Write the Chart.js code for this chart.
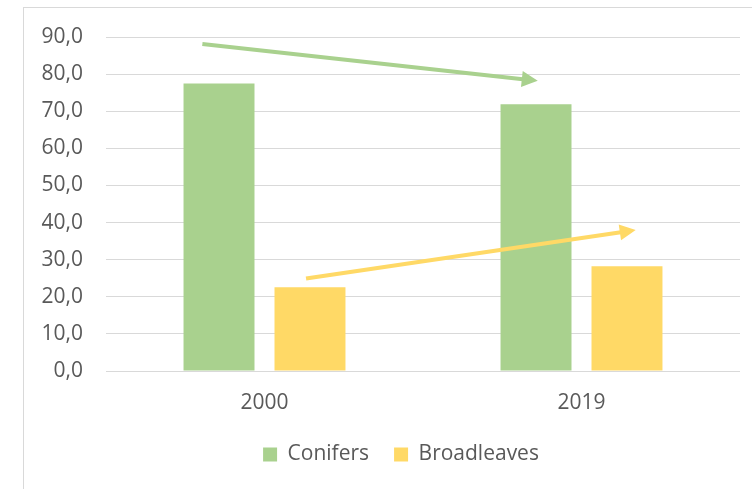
<!DOCTYPE html>
<html>
<head>
<meta charset="utf-8">
<script src="https://cdn.jsdelivr.net/npm/chart.js@4/dist/chart.umd.min.js"></script>
<style>
  html, body { margin: 0; padding: 0; background: #fff; }
  #frame { position: absolute; left: 23px; top: 7px; width: 800px; height: 600px; border: 1px solid #d9d9d9; box-sizing: border-box; }
  #wrap { position: absolute; left: 0; top: 0; width: 752px; height: 489px; }
</style>
</head>
<body>
<div id="frame"></div>
<div id="wrap"><canvas id="c" width="752" height="489"></canvas></div>
<script>
const categories = ["2000", "2019"];
const conifers = [77.5, 71.9];
const broadleaves = [22.6, 28.2];
const yTicks = [0, 10, 20, 30, 40, 50, 60, 70, 80, 90];
// trend arrows in data units: [xIndexStart, yStart, xIndexEnd, yEnd]
const coniferTrend = [-0.196, 88.1, 0.862, 78.2];
const broadleafTrend = [0.131, 24.9, 1.171, 38.0];

const GREEN = "#A9D18E";
const YELLOW = "#FFD966";
const TEXT = "#595959";
const FONT = "'Open Sans', 'Noto Sans', sans-serif";
const FS = 21;

const arrowPlugin = {
  id: "arrows",
  afterDatasetsDraw(chart) {
    const xs = chart.scales.x, ys = chart.scales.y, ctx = chart.ctx;
    const draw = (t, color) => {
      const x0 = xs.getPixelForValue(t[0]), y0 = ys.getPixelForValue(t[1]);
      const x1 = xs.getPixelForValue(t[2]), y1 = ys.getPixelForValue(t[3]);
      const ang = Math.atan2(y1 - y0, x1 - x0);
      const headLen = 16, headHalf = 8;
      const bx = x1 - headLen * Math.cos(ang), by = y1 - headLen * Math.sin(ang);
      ctx.save();
      ctx.strokeStyle = color; ctx.fillStyle = color;
      ctx.lineWidth = 4; ctx.lineCap = "butt";
      ctx.beginPath(); ctx.moveTo(x0, y0); ctx.lineTo(bx + Math.cos(ang), by + Math.sin(ang)); ctx.stroke();
      ctx.beginPath();
      ctx.moveTo(x1, y1);
      ctx.lineTo(bx + headHalf * Math.sin(ang), by - headHalf * Math.cos(ang));
      ctx.lineTo(bx - headHalf * Math.sin(ang), by + headHalf * Math.cos(ang));
      ctx.closePath(); ctx.fill();
      ctx.restore();
    };
    draw(coniferTrend, GREEN);
    draw(broadleafTrend, YELLOW);
  }
};

// shift the legend block to sit under the plot like the original
const legendShift = {
  id: "legendShift",
  afterLayout(chart) {
    const lg = chart.legend;
    if (!lg) return;
    lg.left += 31; lg.right += 31;
  }
};

new Chart(document.getElementById("c"), {
  type: "bar",
  data: {
    labels: categories,
    datasets: [
      { label: "Conifers", data: conifers, backgroundColor: GREEN, barPercentage: 0.78, categoryPercentage: 0.574 },
      { label: "Broadleaves", data: broadleaves, backgroundColor: YELLOW, barPercentage: 0.78, categoryPercentage: 0.574 }
    ]
  },
  options: {
    responsive: false,
    animation: false,
    devicePixelRatio: 1,
    layout: { padding: { left: 0, right: 12, top: 37, bottom: 14 } },
    plugins: {
      tooltip: { enabled: false },
      legend: {
        position: "bottom",
        labels: { color: TEXT, font: { family: FONT, size: FS }, boxWidth: 14, boxHeight: 14, padding: 25 }
      }
    },
    scales: {
      x: {
        grid: { display: false },
        border: { display: false },
        ticks: { color: TEXT, font: { family: FONT, size: FS }, padding: 11 },
        afterFit(s) { s.height = 48; }
      },
      y: {
        min: 0, max: 90,
        afterBuildTicks(s) { s.ticks = yTicks.map(v => ({ value: v })); },
        grid: { color: "#d9d9d9", lineWidth: 1, drawTicks: false },
        border: { display: false },
        ticks: {
          color: TEXT, font: { family: FONT, size: FS }, padding: 23,
          callback: v => v.toFixed(1).replace(".", ",")
        },
        afterFit(s) { s.width = 106; }
      }
    }
  },
  plugins: [arrowPlugin, legendShift]
});
</script>
</body>
</html>
